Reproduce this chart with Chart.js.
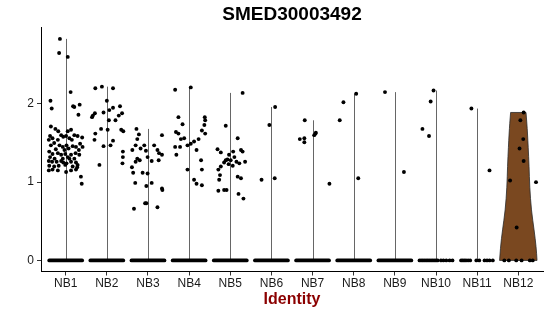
<!DOCTYPE html>
<html>
<head>
<meta charset="utf-8">
<script src="https://cdn.jsdelivr.net/npm/chart.js@4.4.1/dist/chart.umd.min.js"></script>
<style>
html,body{margin:0;padding:0;background:#fff;}
#c{display:block;}
</style>
</head>
<body>
<canvas id="c" width="550" height="316"></canvas>
<script>
// ---------- data ----------
const chartTitle = 'SMED30003492';
const axisTitle = 'Identity';
const categories = ['NB1','NB2','NB3','NB4','NB5','NB6','NB7','NB8','NB9','NB10','NB11','NB12'];
const yTickValues = [0, 1, 2];

// non-zero cells per group: [jitter offset, expression]
const cellsNB1 = [[-0.14,2.83],[-0.16,2.65],[0.05,2.60],[0.12,2.15],[-0.37,2.04],[-0.34,1.94],[0.18,1.97],[0.21,1.96],[0.34,1.99],[0.31,1.86],[0.37,1.07],[0.39,0.98],
 [-0.36,1.71],[-0.25,1.68],[-0.18,1.65],[0.05,1.65],[0.13,1.67],
 [-0.38,1.59],[-0.32,1.56],[-0.11,1.60],[-0.06,1.58],[0.01,1.59],[0.09,1.56],[0.21,1.60],[0.29,1.59],[0.40,1.57],[-0.41,1.54],[-0.19,1.54],[0.15,1.54],
 [-0.36,1.47],[-0.28,1.50],[-0.15,1.47],[-0.07,1.45],[0.02,1.47],[0.07,1.43],[0.17,1.46],[0.25,1.45],[0.35,1.49],[0.41,1.45],[-0.24,1.42],[-0.03,1.41],[0.32,1.41],
 [-0.40,1.39],[-0.32,1.36],[-0.19,1.37],[-0.11,1.35],[-0.01,1.36],[0.05,1.32],[0.13,1.35],[0.24,1.37],[0.33,1.35],[-0.38,1.32],[-0.27,1.30],[-0.07,1.30],[0.09,1.30],[0.21,1.30],
 [-0.41,1.27],[-0.33,1.26],[-0.22,1.26],[-0.11,1.27],[-0.06,1.25],[0.02,1.24],[0.13,1.26],[0.25,1.25],[-0.40,1.21],[-0.28,1.20],[-0.17,1.21],[-0.01,1.22],[0.17,1.20],[0.29,1.22],
 [-0.41,1.15],[-0.32,1.16],[-0.19,1.15],[0.01,1.13],[0.13,1.15],[0.25,1.16],[0.28,1.19]];
const cellsNB2 = [[-0.28,2.20],[-0.12,2.22],[0.15,2.20],[0.00,2.04],[-0.34,1.85],[-0.36,1.83],[-0.29,1.88],[-0.08,1.89],
 [0.06,1.92],[0.15,1.95],[0.32,1.97],[0.37,1.88],[0.29,1.85],[0.21,1.79],[0.05,1.79],
 [0.02,1.67],[-0.14,1.68],[-0.28,1.62],[-0.30,1.54],[0.15,1.53],[0.09,1.47],[-0.08,1.46],[-0.18,1.22],
 [0.35,1.67],[0.40,1.65],[0.39,1.39],[0.39,1.32],[0.38,1.24]];
const cellsNB3 = [[-0.28,1.68],[-0.22,1.61],[-0.26,1.55],[-0.38,1.41],[-0.30,1.47],[-0.18,1.43],[-0.09,1.47],[-0.05,1.40],
 [0.15,1.47],[0.23,1.41],[0.27,1.37],[0.34,1.35],[0.34,1.60],
 [-0.26,1.30],[-0.20,1.28],[-0.30,1.26],[-0.01,1.32],[0.09,1.27],[0.26,1.28],
 [-0.39,1.19],[-0.36,1.12],[-0.13,1.12],[-0.01,1.11],[-0.31,0.99],[-0.04,0.95],[0.09,0.99],[0.34,0.92],[0.35,0.90],
 [-0.07,0.73],[-0.04,0.73],[-0.34,0.66],[0.23,0.68]];
const cellsNB4 = [[-0.34,2.18],[0.04,2.21],[-0.26,1.83],[-0.16,1.74],[-0.32,1.64],[-0.26,1.62],[-0.20,1.55],[-0.12,1.56],[-0.22,1.45],[-0.34,1.45],[-0.31,1.35],
 [0.38,1.83],[0.39,1.79],[0.37,1.73],[0.31,1.66],[0.39,1.62],[0.23,1.55],[0.12,1.52],[0.04,1.49],[-0.04,1.47],[0.18,1.41],
 [0.29,1.28],[0.31,1.16],[-0.04,1.16],[0.12,1.03],[0.18,0.98],[0.31,0.96]];
const cellsNB5 = [[0.30,2.14],[-0.11,1.72],[-0.31,1.42],[-0.23,1.38],[0.18,1.56],[0.26,1.41],[0.30,1.39],[0.07,1.39],[-0.03,1.35],[-0.11,1.28],[-0.15,1.25],[-0.23,1.20],
 [-0.07,1.29],[0.01,1.28],[0.10,1.32],[0.15,1.26],[0.22,1.24],[0.36,1.26],[0.06,1.21],[-0.04,1.23],
 [-0.29,1.16],[-0.25,1.09],[-0.27,1.03],[0.18,1.07],[0.26,1.05],
 [-0.29,0.89],[-0.15,0.90],[-0.09,0.90],[0.20,0.85],[0.32,0.79]];
const cellsNB6 = [[-0.24,1.03],[-0.05,1.73],[0.09,1.96],[0.08,1.05]];
const cellsNB7 = [[-0.31,1.55],[-0.20,1.56],[-0.20,1.51],[-0.19,1.79],[0.04,1.60],[0.07,1.62],[0.08,1.63],[0.41,0.98]];
const cellsNB8 = [[-0.34,1.79],[-0.25,2.02],[0.06,2.13],[0.11,1.05]];
const cellsNB9 = [[-0.24,2.15],[0.22,1.13]];
const cellsNB10 = [[-0.06,2.17],[-0.13,2.03],[-0.33,1.68],[-0.17,1.59]];
const cellsNB11 = [[-0.14,1.94],[0.30,1.15]];
const cellsNB12 = [[0.13,1.89],[0.05,1.79],[0.12,1.55],[0.03,1.43],[0.13,1.27],[-0.20,1.02],[0.43,1.00],[-0.04,0.42]];

// zero-expression cells: NB1..NB9 form solid runs spanning this jitter range
const zeroRunGroups = ['NB1','NB2','NB3','NB4','NB5','NB6','NB7','NB8','NB9'];
const zeroRunSpan = [-0.40, 0.40];
// sparser groups: individual jitter offsets of zero cells
const zeroNB10 = [-0.40,-0.36,-0.32,-0.28,-0.24,-0.20,-0.16,-0.12,-0.08,-0.04,0.00,0.04,0.12,0.18,0.25,0.33,0.40];
const zeroNB11 = [-0.39,-0.35,-0.31,-0.27,-0.22,-0.17,-0.02,0.05,0.18,0.24,0.30,0.38];
const zeroNB12 = [-0.34,-0.23,-0.05,0.08,0.28,0.35];

// NB12 violin outline: expression levels and density half-widths
const violinNB12Levels = [0, 0.17, 0.385, 0.64, 0.94, 1.20, 1.45, 1.62, 1.75, 1.89];
const violinNB12HalfWidth = [0.455, 0.434, 0.385, 0.317, 0.276, 0.262, 0.240, 0.224, 0.208, 0.187];

// ---------- build ----------
const cellGroups = [cellsNB1,cellsNB2,cellsNB3,cellsNB4,cellsNB5,cellsNB6,cellsNB7,cellsNB8,cellsNB9,cellsNB10,cellsNB11,cellsNB12];
const zeroDots = {NB10: zeroNB10, NB11: zeroNB11, NB12: zeroNB12};
const FONT = "'Liberation Sans', Arial, Helvetica, sans-serif";

const pointData = [];
cellGroups.forEach((g, i) => g.forEach(([j, v]) => pointData.push({x: i + 1 + j, y: v})));
Object.keys(zeroDots).forEach(name => {
  const i = categories.indexOf(name);
  zeroDots[name].forEach(j => pointData.push({x: i + 1 + j, y: 0}));
});

const datasets = [];
zeroRunGroups.forEach(name => {
  const i = categories.indexOf(name) + 1;
  datasets.push({
    data: [{x: i + zeroRunSpan[0], y: 0}, {x: i + zeroRunSpan[1], y: 0}],
    showLine: true, borderColor: '#000', borderWidth: 3.8, borderCapStyle: 'round',
    pointRadius: 0, pointHoverRadius: 0, order: 2
  });
});
datasets.push({
  data: pointData, pointRadius: 1.95, pointHoverRadius: 1.95,
  backgroundColor: '#000', borderWidth: 0, showLine: false, order: 1
});

const violinPlugin = {
  id: 'violins',
  beforeDatasetsDraw(chart) {
    const {ctx, scales: {x, y}} = chart;
    ctx.save();
    // degenerate violins: thin lines from 0 to group maximum
    cellGroups.forEach((g, i) => {
      if (categories[i] === 'NB12') return;
      const top = Math.max(...g.map(c => c[1]));
      const px = Math.round(x.getPixelForValue(i + 1)) + 0.5;
      ctx.beginPath();
      ctx.moveTo(px, y.getPixelForValue(0));
      ctx.lineTo(px, y.getPixelForValue(top));
      ctx.strokeStyle = '#666';
      ctx.lineWidth = 1;
      ctx.stroke();
    });
    // NB12 violin
    const ci = categories.indexOf('NB12') + 1;
    const left = violinNB12Levels.map((lv, k) => ({x: x.getPixelForValue(ci - violinNB12HalfWidth[k]), y: y.getPixelForValue(lv)}));
    const right = violinNB12Levels.map((lv, k) => ({x: x.getPixelForValue(ci + violinNB12HalfWidth[k]), y: y.getPixelForValue(lv)})).reverse();
    const smooth = (pts, first) => {
      if (first) ctx.moveTo(pts[0].x, pts[0].y); else ctx.lineTo(pts[0].x, pts[0].y);
      for (let k = 1; k < pts.length - 1; k++) {
        const mx = (pts[k].x + pts[k + 1].x) / 2, my = (pts[k].y + pts[k + 1].y) / 2;
        ctx.quadraticCurveTo(pts[k].x, pts[k].y, mx, my);
      }
      const last = pts[pts.length - 1];
      ctx.lineTo(last.x, last.y);
    };
    ctx.beginPath();
    smooth(left, true);
    smooth(right, false);
    ctx.closePath();
    ctx.fillStyle = '#7a4820';
    ctx.fill();
    ctx.strokeStyle = '#2a2a2a';
    ctx.lineWidth = 0.8;
    ctx.stroke();
    ctx.restore();
  }
};

new Chart(document.getElementById('c'), {
  type: 'scatter',
  data: {datasets},
  plugins: [violinPlugin],
  options: {
    responsive: false,
    animation: false,
    devicePixelRatio: 1,
    layout: {padding: {left: 0, right: 7, top: 0, bottom: 0}},
    plugins: {
      legend: {display: false},
      tooltip: {enabled: false},
      title: {
        display: true, text: chartTitle, fullSize: false, color: '#000',
        font: {family: FONT, size: 19, weight: 'bold'},
        padding: {top: 3, bottom: 2}
      }
    },
    scales: {
      x: {
        type: 'linear', position: 'bottom', min: 0.4, max: 12.6,
        afterBuildTicks: s => { s.ticks = categories.map((c, i) => ({value: i + 1})); },
        afterFit: s => { s.height = 44.5; },
        border: {display: true, color: '#000', width: 1},
        grid: {display: true, drawOnChartArea: false, drawTicks: true, tickLength: 4, color: '#333'},
        ticks: {
          autoSkip: false, maxRotation: 0, padding: 1, color: '#1a1a1a',
          font: {family: FONT, size: 12},
          callback: v => categories[Math.round(v) - 1]
        },
        title: {
          display: true, text: axisTitle, color: '#8B0000',
          font: {family: FONT, size: 16, weight: 'bold'},
          padding: {top: 0, bottom: 7}
        }
      },
      y: {
        type: 'linear', min: -0.1415, max: 2.9715,
        afterBuildTicks: s => { s.ticks = yTickValues.map(v => ({value: v})); },
        afterFit: s => { s.width = 41; },
        border: {display: true, color: '#000', width: 1},
        grid: {display: true, drawOnChartArea: false, drawTicks: true, tickLength: 4, color: '#333'},
        ticks: {padding: 3, color: '#1a1a1a', font: {family: FONT, size: 12}, callback: v => String(v)}
      }
    }
  }
});
</script>
</body>
</html>
